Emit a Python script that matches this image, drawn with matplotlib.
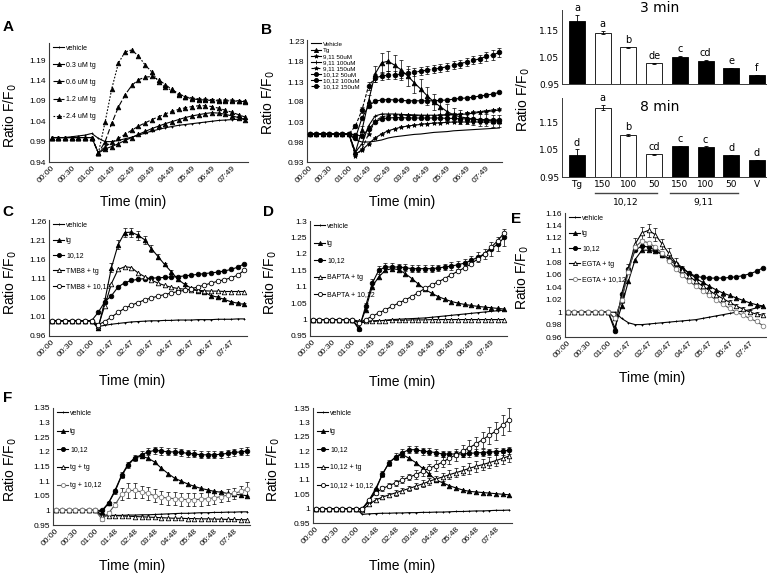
import numpy as np
import matplotlib
matplotlib.use('Agg')
import matplotlib.pyplot as plt
import matplotlib.transforms as mtransforms

plt.rcParams['font.family'] = ['Liberation Sans', 'DejaVu Sans']

W, H = 767, 577

# ---------------- data ----------------
# 30 readings per trace; the first 7 are the pre-addition baseline
BASE = [1.0, 1.0, 1.0, 1.0, 1.0, 1.0, 1.0]
BASE_ERR = [0, 0, 0, 0, 0, 0, 0]

TIME_49 = ['00:00', '00:30', '01:00', '01:49', '02:49', '03:49', '04:49', '05:49', '06:49', '07:49']
TIME_47 = ['00:00', '00:30', '01:00', '01:47', '02:47', '03:47', '04:47', '05:47', '06:47', '07:47']
TIME_48 = ['00:00', '00:30', '01:00', '01:48', '02:48', '03:48', '04:48', '05:48', '06:48', '07:48']

# panel A
A_VEH = [1.0, 1.0, 1.0, 1.002, 1.004, 1.006, 1.01, 0.998, 0.99, 0.99, 0.993, 0.997, 1.001, 1.006, 1.011,
         1.016, 1.02, 1.024, 1.027, 1.03, 1.032, 1.034, 1.036, 1.038, 1.04, 1.042, 1.043, 1.044, 1.045, 1.046]
A_TG03 = BASE + [0.962, 0.972, 0.978, 0.985, 0.993, 1.0, 1.008, 1.015, 1.022, 1.028, 1.034, 1.039, 1.044,
                 1.049, 1.053, 1.056, 1.059, 1.061, 1.06, 1.057, 1.053, 1.049, 1.044]
A_TG06 = BASE + [0.962, 0.978, 0.988, 0.998, 1.008, 1.018, 1.028, 1.036, 1.044, 1.051, 1.058, 1.064, 1.069,
                 1.073, 1.076, 1.078, 1.078, 1.076, 1.072, 1.067, 1.062, 1.056, 1.05]
A_TG12 = BASE + [0.962, 0.99, 1.035, 1.075, 1.105, 1.128, 1.142, 1.148, 1.15, 1.142, 1.13, 1.118, 1.108,
                 1.1, 1.095, 1.093, 1.092, 1.091, 1.09, 1.09, 1.09, 1.089, 1.088]
A_TG24 = BASE + [0.962, 1.038, 1.12, 1.183, 1.21, 1.215, 1.2, 1.178, 1.161, 1.137, 1.123, 1.116, 1.105,
                 1.1, 1.097, 1.095, 1.094, 1.093, 1.092, 1.092, 1.092, 1.09, 1.09]

# panel B
B_VEH = BASE + [0.985, 0.98, 0.98, 0.982, 0.985, 0.99, 0.993, 0.995, 0.997, 0.999, 1.0, 1.002, 1.004,
                1.005, 1.006, 1.008, 1.009, 1.01, 1.011, 1.012, 1.013, 1.014, 1.015]
B_TG = BASE + [0.955, 1.01, 1.082, 1.15, 1.178, 1.182, 1.172, 1.16, 1.145, 1.128, 1.112, 1.095, 1.08,
               1.068, 1.056, 1.048, 1.043, 1.04, 1.037, 1.035, 1.034, 1.033, 1.033]
B_TG_ERR = BASE_ERR + [0.005, 0.01, 0.015, 0.02, 0.025, 0.025, 0.025, 0.025, 0.025, 0.025, 0.025, 0.022,
                       0.02, 0.02, 0.02, 0.018, 0.018, 0.015, 0.015, 0.015, 0.015, 0.015, 0.015]
B_911_50 = BASE + [0.95, 0.96, 0.975, 0.99, 1.0, 1.008, 1.013, 1.017, 1.02, 1.022, 1.024, 1.026, 1.027,
                   1.028, 1.029, 1.03, 1.03, 1.03, 1.03, 1.03, 1.03, 1.03, 1.03]
B_911_100 = BASE + [0.955, 0.975, 1.02, 1.045, 1.05, 1.05, 1.05, 1.049, 1.048, 1.048, 1.047, 1.047, 1.047,
                    1.047, 1.048, 1.048, 1.049, 1.05, 1.052, 1.054, 1.056, 1.058, 1.06]
B_911_150 = BASE + [0.945, 0.962, 1.0, 1.032, 1.043, 1.046, 1.047, 1.047, 1.047, 1.046, 1.046, 1.046, 1.046,
                    1.047, 1.048, 1.049, 1.05, 1.052, 1.054, 1.056, 1.058, 1.06, 1.062]
B_1012_50 = BASE + [0.998, 0.995, 1.012, 1.03, 1.038, 1.04, 1.041, 1.041, 1.04, 1.04, 1.04, 1.04, 1.04,
                    1.04, 1.039, 1.039, 1.038, 1.038, 1.037, 1.036, 1.036, 1.035, 1.035]
B_1012_100 = BASE + [0.99, 1.04, 1.07, 1.082, 1.085, 1.086, 1.085, 1.084, 1.083, 1.083, 1.083, 1.083, 1.083,
                     1.084, 1.085, 1.087, 1.089, 1.09, 1.092, 1.095, 1.097, 1.1, 1.104]
B_1012_150 = BASE + [1.02, 1.06, 1.12, 1.14, 1.145, 1.147, 1.148, 1.15, 1.152, 1.155, 1.157, 1.16, 1.162,
                     1.165, 1.168, 1.172, 1.176, 1.18, 1.184, 1.188, 1.194, 1.198, 1.204]
B_1012_150_ERR = BASE_ERR + [0.005, 0.008, 0.01, 0.01, 0.01, 0.01, 0.01, 0.01, 0.01, 0.01, 0.01, 0.01, 0.01,
                             0.01, 0.01, 0.01, 0.01, 0.01, 0.01, 0.01, 0.012, 0.012, 0.012]

# bar panels (3 min / 8 min)
BAR_LABELS = ['Tg', '150', '100', '50', '150', '100', '50', 'V']
BAR_3MIN = [1.183, 1.141, 1.086, 1.027, 1.052, 1.037, 1.009, 0.984]
BAR_3MIN_ERR = [0.025, 0.007, 0.003, 0.002, 0.003, 0.003, 0.002, 0.001]
BAR_3MIN_SIG = ['a', 'a', 'b', 'de', 'c', 'cd', 'e', 'f']
BAR_8MIN = [1.029, 1.205, 1.105, 1.034, 1.062, 1.06, 1.029, 1.012]
BAR_8MIN_ERR = [0.022, 0.01, 0.003, 0.002, 0.003, 0.003, 0.002, 0.002]
BAR_8MIN_SIG = ['d', 'a', 'b', 'cd', 'c', 'c', 'd', 'd']
BAR_GROUPS = ['10,12', '9,11']

# panel C
C_VEH = BASE + [0.985, 0.988, 0.991, 0.993, 0.995, 0.997, 0.998, 0.999, 1.0, 1.0, 1.001, 1.001, 1.002,
                1.002, 1.002, 1.003, 1.003, 1.003, 1.004, 1.004, 1.004, 1.005, 1.005]
C_TG = BASE + [0.98, 1.053, 1.14, 1.2, 1.232, 1.233, 1.225, 1.213, 1.19, 1.169, 1.148, 1.129, 1.109,
               1.096, 1.086, 1.079, 1.075, 1.066, 1.062, 1.056, 1.05, 1.046, 1.043]
C_TG_ERR = BASE_ERR + [0.003, 0.008, 0.012, 0.012, 0.012, 0.012, 0.012, 0.01, 0.008, 0.006, 0.005, 0.005,
                       0.004, 0.004, 0.004, 0.003, 0.003, 0.003, 0.003, 0.003, 0.003, 0.003, 0.003]
C_1012 = BASE + [1.022, 1.05, 1.066, 1.089, 1.1, 1.106, 1.109, 1.111, 1.112, 1.113, 1.114, 1.115, 1.116,
                 1.118, 1.12, 1.122, 1.124, 1.126, 1.128, 1.131, 1.135, 1.141, 1.15]
C_TMB_TG = BASE + [0.985, 1.04, 1.098, 1.135, 1.142, 1.14, 1.126, 1.116, 1.107, 1.099, 1.093, 1.088, 1.085,
                   1.083, 1.081, 1.08, 1.079, 1.078, 1.078, 1.077, 1.077, 1.077, 1.077]
C_TMB_1012 = BASE + [0.99, 0.998, 1.01, 1.022, 1.033, 1.041, 1.048, 1.055, 1.06, 1.065, 1.069, 1.073, 1.077,
                     1.08, 1.084, 1.089, 1.094, 1.099, 1.104, 1.108, 1.113, 1.12, 1.133]

# panel D
D_VEH = BASE + [0.99, 0.992, 0.994, 0.996, 0.998, 1.0, 1.001, 1.002, 1.003, 1.004, 1.005, 1.007, 1.009,
                1.011, 1.013, 1.015, 1.017, 1.019, 1.021, 1.023, 1.025, 1.027, 1.029]
D_TG = BASE + [0.975, 1.03, 1.1, 1.13, 1.15, 1.155, 1.152, 1.14, 1.125, 1.108, 1.092, 1.08, 1.07,
               1.062, 1.055, 1.05, 1.046, 1.043, 1.04, 1.038, 1.036, 1.034, 1.032]
D_1012 = BASE + [0.97, 1.04, 1.11, 1.15, 1.16, 1.16, 1.16, 1.158, 1.155, 1.155, 1.155, 1.155, 1.157,
                 1.16, 1.163, 1.167, 1.172, 1.18, 1.19, 1.2, 1.215, 1.23, 1.25]
D_1012_ERR = BASE_ERR + [0.005, 0.01, 0.012, 0.012, 0.012, 0.012, 0.01, 0.01, 0.01, 0.01, 0.01, 0.01,
                         0.01, 0.01, 0.012, 0.012, 0.012, 0.012, 0.015, 0.015, 0.02, 0.02, 0.025]
D_BAPTA_TG = BASE + [0.995, 0.995, 0.996, 0.997, 0.997, 0.998, 0.998, 0.998, 0.999, 0.999, 0.999, 1.0, 1.0,
                     1.0, 1.0, 1.0, 1.0, 1.0, 1.0, 1.0, 1.0, 1.0, 1.0]
D_BAPTA_1012 = BASE + [0.99, 1.0, 1.01, 1.02, 1.03, 1.04, 1.05, 1.06, 1.07, 1.082, 1.095, 1.105, 1.115,
                       1.125, 1.137, 1.147, 1.158, 1.17, 1.185, 1.2, 1.22, 1.24, 1.265]

# panel E
E_VEH = BASE + [1.0, 0.99, 0.983, 0.98, 0.98, 0.981, 0.982, 0.983, 0.984, 0.985, 0.986, 0.987, 0.988,
                0.99, 0.992, 0.994, 0.996, 0.998, 1.0, 1.002, 1.004, 1.007, 1.01]
E_TG = BASE + [0.975, 1.01, 1.05, 1.085, 1.1, 1.1, 1.098, 1.093, 1.087, 1.08, 1.072, 1.063, 1.055,
               1.048, 1.042, 1.036, 1.031, 1.027, 1.023, 1.019, 1.015, 1.012, 1.01]
E_1012 = BASE + [0.97, 1.03, 1.07, 1.1, 1.107, 1.105, 1.1, 1.093, 1.085, 1.077, 1.07, 1.063, 1.058,
                 1.056, 1.055, 1.055, 1.055, 1.056, 1.057, 1.059, 1.062, 1.066, 1.072]
E_EGTA_TG = BASE + [0.99, 1.02, 1.07, 1.11, 1.128, 1.132, 1.125, 1.11, 1.095, 1.08, 1.068, 1.058, 1.05,
                    1.042, 1.035, 1.028, 1.022, 1.016, 1.01, 1.005, 1.0, 0.997, 0.995]
E_EGTA_TG_ERR = BASE_ERR + [0.003, 0.005, 0.008, 0.01, 0.01, 0.01, 0.01, 0.008, 0.008, 0.007, 0.006, 0.005,
                            0.005, 0.005, 0.004, 0.004, 0.004, 0.003, 0.003, 0.003, 0.003, 0.003, 0.003]
E_EGTA_1012 = BASE + [0.99, 1.02, 1.065, 1.105, 1.115, 1.112, 1.105, 1.095, 1.083, 1.07, 1.06, 1.05, 1.042,
                      1.035, 1.027, 1.02, 1.013, 1.006, 1.0, 0.995, 0.99, 0.985, 0.978]

# panel F (left)
FL_VEH = BASE + [0.985, 0.983, 0.983, 0.983, 0.984, 0.984, 0.985, 0.985, 0.986, 0.987, 0.988, 0.989, 0.99,
                 0.99, 0.991, 0.992, 0.992, 0.993, 0.993, 0.994, 0.994, 0.995, 0.995]
FL_TG = BASE + [0.995, 1.025, 1.07, 1.121, 1.16, 1.18, 1.185, 1.178, 1.165, 1.144, 1.126, 1.11, 1.1,
                1.09, 1.082, 1.075, 1.07, 1.065, 1.062, 1.058, 1.055, 1.053, 1.05]
FL_1012 = BASE + [1.0, 1.025, 1.065, 1.12, 1.155, 1.18, 1.19, 1.2, 1.205, 1.203, 1.2, 1.2, 1.198,
                  1.195, 1.193, 1.19, 1.19, 1.19, 1.192, 1.195, 1.198, 1.2, 1.203]
FL_1012_ERR = BASE_ERR + [0.003, 0.005, 0.008, 0.01, 0.01, 0.01, 0.012, 0.012, 0.012, 0.012, 0.012, 0.012,
                          0.012, 0.012, 0.012, 0.012, 0.012, 0.012, 0.012, 0.012, 0.012, 0.012, 0.012]
FL_TGTG = BASE + [0.98, 0.982, 0.982, 0.981, 0.98, 0.979, 0.978, 0.977, 0.976, 0.975, 0.974, 0.973, 0.973,
                  0.972, 0.972, 0.971, 0.971, 0.97, 0.97, 0.969, 0.969, 0.968, 0.968]
FL_TG1012 = BASE + [0.97, 0.99, 1.02, 1.055, 1.068, 1.068, 1.063, 1.058, 1.05, 1.045, 1.042, 1.04, 1.038,
                    1.037, 1.037, 1.038, 1.04, 1.043, 1.047, 1.052, 1.058, 1.065, 1.073]
FL_TG1012_ERR = BASE_ERR + [0.005, 0.008, 0.01, 0.02, 0.025, 0.025, 0.022, 0.022, 0.022, 0.022, 0.022, 0.022,
                            0.022, 0.022, 0.022, 0.022, 0.022, 0.022, 0.02, 0.02, 0.02, 0.02, 0.025]

# panel F (right)
FR_VEH = BASE + [0.98, 0.982, 0.983, 0.984, 0.984, 0.985, 0.985, 0.986, 0.986, 0.987, 0.987, 0.988, 0.988,
                 0.989, 0.99, 0.99, 0.991, 0.992, 0.992, 0.993, 0.994, 0.994, 0.995]
FR_TG = BASE + [1.0, 1.03, 1.07, 1.12, 1.16, 1.18, 1.188, 1.175, 1.16, 1.14, 1.12, 1.1, 1.09,
                1.08, 1.072, 1.065, 1.06, 1.058, 1.056, 1.054, 1.052, 1.05, 1.048]
FR_1012 = BASE + [1.0, 1.025, 1.065, 1.12, 1.16, 1.18, 1.195, 1.205, 1.205, 1.2, 1.198, 1.195, 1.19,
                  1.19, 1.19, 1.19, 1.192, 1.194, 1.195, 1.197, 1.198, 1.2, 1.203]
FR_1012_ERR = BASE_ERR + [0.003, 0.005, 0.008, 0.01, 0.01, 0.012, 0.012, 0.012, 0.012, 0.012, 0.012, 0.012,
                          0.012, 0.012, 0.012, 0.012, 0.012, 0.012, 0.012, 0.012, 0.012, 0.012, 0.012]
FR_1012_TG = BASE + [0.995, 1.015, 1.03, 1.04, 1.048, 1.055, 1.063, 1.07, 1.078, 1.086, 1.095, 1.103, 1.11,
                     1.118, 1.125, 1.132, 1.14, 1.147, 1.153, 1.16, 1.167, 1.175, 1.183]
FR_1012_TG_ERR = BASE_ERR + [0.003, 0.005, 0.006, 0.008, 0.008, 0.01, 0.01, 0.01, 0.01, 0.012, 0.012, 0.012,
                             0.015, 0.015, 0.015, 0.015, 0.018, 0.018, 0.02, 0.02, 0.02, 0.02, 0.02]
FR_1012_1012 = BASE + [1.0, 1.03, 1.055, 1.07, 1.08, 1.09, 1.1, 1.11, 1.118, 1.13, 1.14, 1.15, 1.162,
                       1.175, 1.187, 1.2, 1.212, 1.225, 1.24, 1.255, 1.27, 1.29, 1.31]
FR_1012_1012_ERR = BASE_ERR + [0.003, 0.005, 0.008, 0.008, 0.01, 0.01, 0.012, 0.012, 0.015, 0.015, 0.015,
                               0.018, 0.018, 0.02, 0.02, 0.022, 0.025, 0.025, 0.028, 0.03, 0.03, 0.035, 0.04]

# y tick values per panel
YT_A = [0.94, 0.99, 1.04, 1.09, 1.14, 1.19]
YT_B = [0.93, 0.98, 1.03, 1.08, 1.13, 1.18, 1.23]
YT_C = [0.96, 1.01, 1.06, 1.11, 1.16, 1.21, 1.26]
YT_D = [0.95, 1.0, 1.05, 1.1, 1.15, 1.2, 1.25, 1.3]
YT_E = [0.96, 0.98, 1.0, 1.02, 1.04, 1.06, 1.08, 1.1, 1.12, 1.14, 1.16]
YT_F = [0.95, 1.0, 1.05, 1.1, 1.15, 1.2, 1.25, 1.3, 1.35]
YT_BAR = [0.95, 1.05, 1.15]


# ---------------- plotting ----------------
fig = plt.figure(figsize=(W / 100, H / 100), dpi=100)
YLAB = 'Ratio F/F$_0$'


def add_ax(l, t, r, b):
    return fig.add_axes([l / W, 1 - b / H, (r - l) / W, (b - t) / H])


def fig_xy(x, y):
    return x / W, 1 - y / H


def excel_axes(ax, lw=0.8):
    for s in ['top', 'right']:
        ax.spines[s].set_visible(False)
    for s in ['left', 'bottom']:
        ax.spines[s].set_color('#3a3a3a')
        ax.spines[s].set_linewidth(lw)
    ax.tick_params(length=0, pad=2)


VEH = dict(marker='+', ms=2.0, lw=0.8)
TRI = dict(marker='^', mfc='black')
DOT = dict(marker='o', mfc='black')
OTRI = dict(marker='^', mfc='white')
ODOT = dict(marker='o', mfc='white')
GDOT = dict(marker='o', mfc='white', mec='#808080', color='#505050')


def line_panel(rect, series, yticks, fmt, ylim, times, ylab_xy, xlab_xy, leg_space, leg_fs=5.0, ms=3.3):
    ax = add_ax(*rect)
    for y, err, label, st in series:
        x = np.arange(len(y))
        if err is not None:
            ax.errorbar(x, y, yerr=err, fmt='none', ecolor='black', elinewidth=0.5,
                        capsize=1.2, capthick=0.5, zorder=2)
        ax.plot(x, y, label=label, color=st.get('color', 'black'), lw=st.get('lw', 0.8),
                ls=st.get('ls', '-'), marker=st.get('marker'), ms=st.get('ms', ms),
                mfc=st.get('mfc', 'black'), mec=st.get('mec', 'black'), mew=0.6, zorder=3)
    n = len(series[0][0])
    ax.set_xlim(-0.4, n - 1 + 0.4)
    ax.set_ylim(*ylim)
    ax.set_xticks(range(0, 3 * len(times), 3))
    ax.set_xticklabels(times, rotation=45, ha='right', rotation_mode='anchor', fontsize=6)
    ax.tick_params(axis='x', pad=4)
    ax.set_yticks(yticks)
    ax.set_yticklabels([fmt(v) for v in yticks], fontsize=6)
    excel_axes(ax)
    ax.set_ylabel(YLAB, fontsize=10, va='center')
    ax.yaxis.set_label_coords(*fig_xy(*ylab_xy), transform=fig.transFigure)
    ax.set_xlabel('Time (min)', fontsize=10, va='center')
    ax.xaxis.set_label_coords(*fig_xy(*xlab_xy), transform=fig.transFigure)
    ax.legend(loc='upper left', bbox_to_anchor=(0.0, 1.02), frameon=False, fontsize=leg_fs,
              handlelength=1.6, handletextpad=0.3, labelspacing=leg_space, borderaxespad=0.2,
              markerscale=0.9)
    return ax


f2 = lambda v: f'{v:.2f}'
fg = lambda v: f'{round(v, 2):g}'

# A
line_panel((49, 43, 248, 162),
           [(A_VEH, None, 'vehicle', VEH),
            (A_TG03, None, '0.3 uM tg', TRI),
            (A_TG06, None, '0.6 uM tg', dict(TRI, ls=(0, (4, 2)))),
            (A_TG12, None, '1.2 uM tg', dict(TRI, ls=(0, (5, 2)))),
            (A_TG24, None, '2.4 uM tg', dict(TRI, ls=(0, (1.5, 1.5))))],
           YT_A, f2, (0.94, 1.232), TIME_49, (10, 116), (133, 202), 1.45)

# B
line_panel((307, 40, 502, 162),
           [(B_VEH, None, 'Vehicle', dict(lw=0.8)),
            (B_TG, B_TG_ERR, 'Tg', TRI),
            (B_911_50, None, '9,11 50uM', dict(marker='*', mfc='black')),
            (B_911_100, None, '9,11 100uM', dict(marker='+', mfc='black')),
            (B_911_150, None, '9,11 150uM', dict(marker='*', mfc='black', ls=(0, (3, 2)))),
            (B_1012_50, None, '10,12 50uM', DOT),
            (B_1012_100, None, '10,12 100uM', DOT),
            (B_1012_150, B_1012_150_ERR, '10,12 150uM', dict(DOT, ls=(0, (3, 1.5))))],
           YT_B, f2, (0.93, 1.235), TIME_49, (268, 103), (402, 202), 0.12, leg_fs=4.5)

# C
line_panel((49, 220, 247, 336),
           [(C_VEH, None, 'vehicle', VEH),
            (C_TG, C_TG_ERR, 'tg', TRI),
            (C_1012, None, '10,12', DOT),
            (C_TMB_TG, None, 'TMB8 + tg', OTRI),
            (C_TMB_1012, None, 'TMB8 + 10,12', ODOT)],
           YT_C, f2, (0.96, 1.265), TIME_47, (10, 283), (132, 381), 1.2)

# D
line_panel((310, 221, 507, 336),
           [(D_VEH, None, 'vehicle', VEH),
            (D_TG, None, 'tg', TRI),
            (D_1012, D_1012_ERR, '10,12', DOT),
            (D_BAPTA_TG, None, 'BAPTA + tg', OTRI),
            (D_BAPTA_1012, None, 'BAPTA + 10,12', ODOT)],
           YT_D, fg, (0.95, 1.3), TIME_49, (270, 283), (402, 382), 1.45)

# E
line_panel((565, 213, 766, 337),
           [(E_VEH, None, 'vehicle', VEH),
            (E_TG, None, 'tg', TRI),
            (E_1012, None, '10,12', DOT),
            (E_EGTA_TG, E_EGTA_TG_ERR, 'EGTA + tg', OTRI),
            (E_EGTA_1012, None, 'EGTA + 10,12', GDOT)],
           YT_E, fg, (0.96, 1.16), TIME_47, (522, 278), (652, 378), 1.2)

# F left
line_panel((53, 408, 250, 525),
           [(FL_VEH, None, 'vehicle', VEH),
            (FL_TG, None, 'tg', TRI),
            (FL_1012, FL_1012_ERR, '10,12', DOT),
            (FL_TGTG, None, 'tg + tg', OTRI),
            (FL_TG1012, FL_TG1012_ERR, 'tg + 10,12', GDOT)],
           YT_F, fg, (0.95, 1.35), TIME_48, (10, 470), (132, 566), 1.6)

# F right
line_panel((313, 408, 512, 523),
           [(FR_VEH, None, 'vehicle', VEH),
            (FR_TG, None, 'tg', TRI),
            (FR_1012, FR_1012_ERR, '10,12', DOT),
            (FR_1012_TG, FR_1012_TG_ERR, '10,12 + tg', OTRI),
            (FR_1012_1012, FR_1012_1012_ERR, '10,12 + 10,12', ODOT)],
           YT_F, fg, (0.95, 1.35), TIME_48, (273, 470), (402, 566), 1.6)

# bar panels
bar_colors = ['black', 'white', 'white', 'white', 'black', 'black', 'black', 'black']
bar_font = ['DejaVu Sans']
for rect, vals, errs, sig, title, ylim, title_y, show_x in [
        ((562, 10, 766, 84), BAR_3MIN, BAR_3MIN_ERR, BAR_3MIN_SIG, '3 min', (0.95, 1.225), 1.03, False),
        ((562, 98, 766, 177), BAR_8MIN, BAR_8MIN_ERR, BAR_8MIN_SIG, '8 min', (0.95, 1.24), 0.88, True)]:
    ax = add_ax(*rect)
    x = np.arange(len(vals))
    v = np.array(vals)
    ax.bar(x, v - ylim[0], bottom=ylim[0], width=0.62, color=bar_colors, edgecolor='black', lw=0.6,
           yerr=errs, error_kw=dict(elinewidth=0.6, capsize=1.6, capthick=0.6))
    for xi, vi, ei, s in zip(x, vals, errs, sig):
        ax.text(xi, vi + ei + 0.006, s, ha='center', va='bottom', fontsize=7, family=bar_font,
                clip_on=False)
    ax.set_xlim(-0.58, 7.35)
    ax.set_ylim(*ylim)
    ax.set_yticks(YT_BAR)
    ax.set_yticklabels([f'{t:.2f}' for t in YT_BAR], fontsize=6.5, family=bar_font)
    excel_axes(ax, lw=0.7)
    ax.text(0.48, title_y, title, transform=ax.transAxes, ha='center', va='center',
            fontsize=10, family=bar_font)
    if show_x:
        ax.set_xticks(x)
        ax.set_xticklabels(BAR_LABELS, fontsize=6.5, family=bar_font)
        tr = mtransforms.blended_transform_factory(ax.transData, ax.transAxes)
        for (x0, x1), g in zip([(0.7, 3.1), (3.6, 6.26)], BAR_GROUPS):
            ax.plot([x0, x1], [-0.2, -0.2], color='#444444', lw=1.0, transform=tr, clip_on=False)
            ax.text((x0 + x1) / 2, -0.32, g, transform=tr, ha='center', va='center', fontsize=6.5,
                    family=bar_font)
    else:
        ax.set_xticks([])

fig.text(*fig_xy(523, 100), YLAB, rotation=90, ha='center', va='center', fontsize=10)

# panel letters
for letter, (px, py) in {'A': (8, 27), 'B': (267, 30), 'C': (8, 212), 'D': (268, 212),
                         'E': (516, 219), 'F': (8, 398)}.items():
    fig.text(*fig_xy(px, py), letter, fontsize=11, fontweight='bold', ha='center', va='center')

fig.savefig('out.png', dpi=100)
